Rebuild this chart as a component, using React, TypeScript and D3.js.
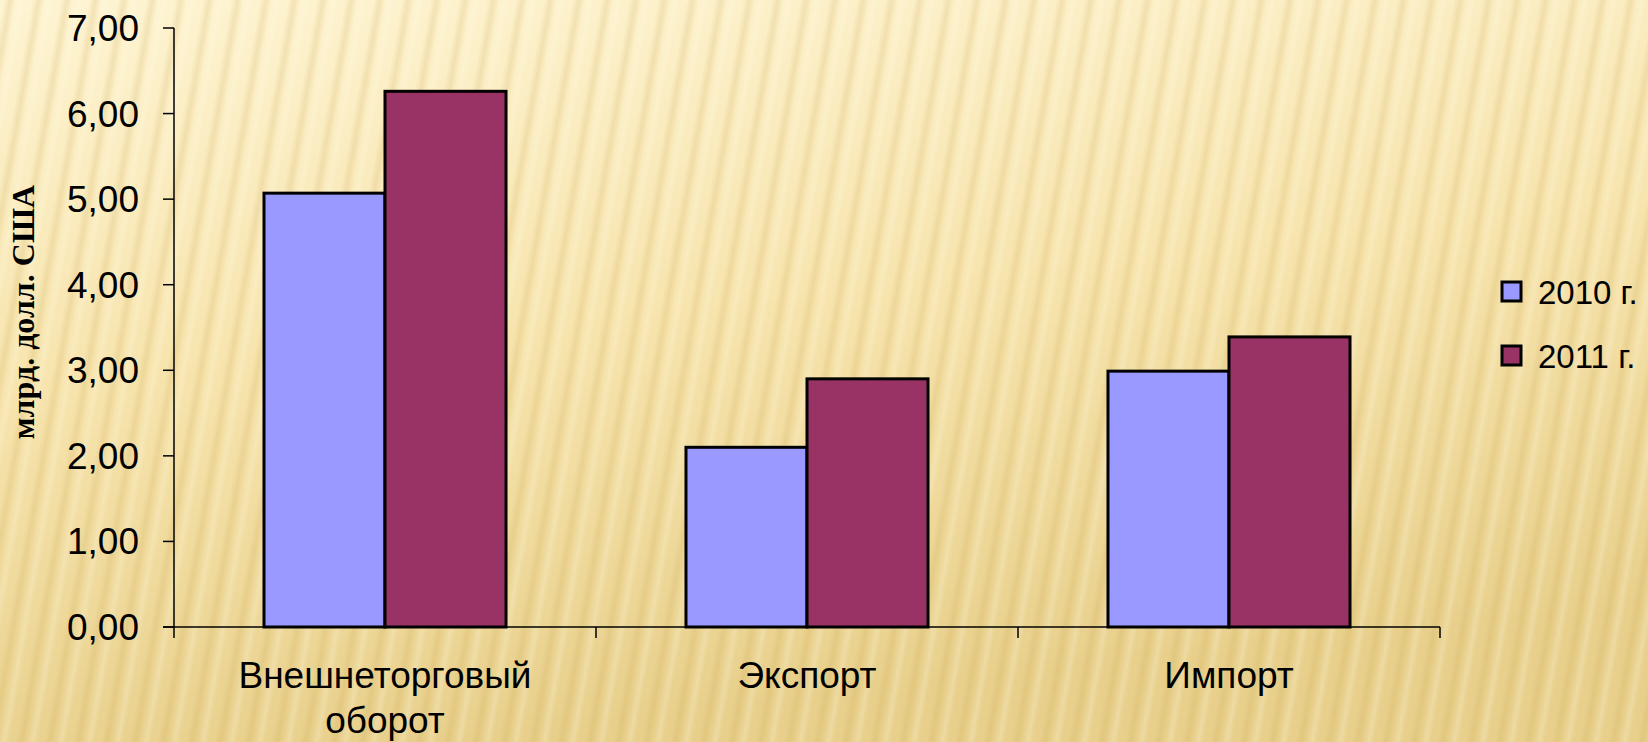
import React from "react";
import * as d3 from "d3";

const categories: string[][] = [["Внешнеторговый", "оборот"], ["Экспорт"], ["Импорт"]];
const seriesNames = ["2010 г.", "2011 г."];
const values2010 = [5.07, 2.1, 2.99];
const values2011 = [6.26, 2.9, 3.39];
const yTicks = [0, 1, 2, 3, 4, 5, 6, 7];
const colors = ["#9999ff", "#993366"];

const W = 1648;
const H = 742;
const left = 174;
const right = 1440;
const top = 28;
const bottom = 627;

export default function App() {
  const catKeys = categories.map((c) => c.join(" "));
  const x = d3.scaleBand<string>().domain(catKeys).range([left, right]).paddingInner(0.4265).paddingOuter(0.21325);
  const xi = d3.scaleBand<string>().domain(seriesNames).range([0, x.bandwidth()]);
  const y = d3.scaleLinear().domain([0, 7]).range([bottom, top]);
  const series = [values2010, values2011];
  const step = x.step();
  const fmt = (v: number) => v.toFixed(2).replace(".", ",");
  const font = "'Liberation Sans', Arial, sans-serif";

  return (
    <svg width={W} height={H} style={{ position: "fixed", left: 0, top: 0 }} xmlns="http://www.w3.org/2000/svg">
      <defs>
        <linearGradient id="bg" x1="0" y1="0" x2="0.25" y2="1">
          <stop offset="0" stopColor="#fef4d2" />
          <stop offset="0.5" stopColor="#f7e4ad" />
          <stop offset="1" stopColor="#e8d08c" />
        </linearGradient>
        <linearGradient id="stripeGrad" x1="0" y1="0" x2="1" y2="0">
          <stop offset="0" stopColor="#c8a24a" stopOpacity="0" />
          <stop offset="0.5" stopColor="#c8a24a" stopOpacity="0.2" />
          <stop offset="1" stopColor="#c8a24a" stopOpacity="0" />
        </linearGradient>
        <linearGradient id="hiGrad" x1="0" y1="0" x2="1" y2="0">
          <stop offset="0" stopColor="#fffbe8" stopOpacity="0" />
          <stop offset="0.5" stopColor="#fffbe8" stopOpacity="0.25" />
          <stop offset="1" stopColor="#fffbe8" stopOpacity="0" />
        </linearGradient>
        <pattern id="stripes" width="28" height="40" patternUnits="userSpaceOnUse" patternTransform="rotate(10)">
          <rect x="4" y="0" width="12" height="40" fill="url(#stripeGrad)" />
          <rect x="16" y="0" width="10" height="40" fill="url(#hiGrad)" />
        </pattern>
      </defs>
      <rect x={0} y={0} width={W} height={H} fill="url(#bg)" />
      <rect x={0} y={0} width={W} height={H} fill="url(#stripes)" />

      {/* bars */}
      {catKeys.map((k, ci) => (
        <g key={k} transform={`translate(${x(k)},0)`}>
          {series.map((vals, si) => (
            <rect
              key={si}
              x={xi(seriesNames[si])}
              y={y(vals[ci])}
              width={xi.bandwidth()}
              height={y(0) - y(vals[ci])}
              fill={colors[si]}
              stroke="#000"
              strokeWidth={3}
            />
          ))}
        </g>
      ))}

      {/* y axis */}
      <line x1={left} x2={left} y1={y(7)} y2={y(0)} stroke="#000" strokeWidth={1.5} />
      {yTicks.map((t) => (
        <g key={t}>
          <line x1={left - 11} x2={left} y1={y(t)} y2={y(t)} stroke="#000" strokeWidth={1.5} />
          <text x={left - 35} y={y(t) + 13} textAnchor="end" fontFamily={font} fontSize={37} fill="#000">
            {fmt(t)}
          </text>
        </g>
      ))}

      {/* x axis */}
      <line x1={left - 11} x2={right} y1={y(0)} y2={y(0)} stroke="#000" strokeWidth={1.5} />
      {d3.range(catKeys.length + 1).map((i) => (
        <line key={i} x1={left + i * step} x2={left + i * step} y1={y(0)} y2={y(0) + 11} stroke="#000" strokeWidth={1.5} />
      ))}
      {categories.map((lines, ci) => (
        <text key={ci} textAnchor="middle" fontFamily={font} fontSize={37} fill="#000">
          {lines.map((ln, li) => (
            <tspan key={li} x={(x(catKeys[ci]) as number) + x.bandwidth() / 2} y={688 + li * 45}>
              {ln}
            </tspan>
          ))}
        </text>
      ))}

      {/* y axis title */}
      <text
        transform={`translate(34,312) rotate(-90)`}
        textAnchor="middle"
        fontFamily="'Liberation Serif', 'Times New Roman', serif"
        fontWeight="bold"
        fontSize={32}
        fill="#000"
      >
        млрд. долл. США
      </text>

      {/* legend */}
      {seriesNames.map((s, i) => (
        <g key={s} transform={`translate(1502,${282 + i * 64})`}>
          <rect x={0} y={0} width={19} height={19} fill={colors[i]} stroke="#000" strokeWidth={3} />
          <text x={36} y={22} fontFamily={font} fontSize={33} fill="#000">
            {s}
          </text>
        </g>
      ))}
    </svg>
  );
}
